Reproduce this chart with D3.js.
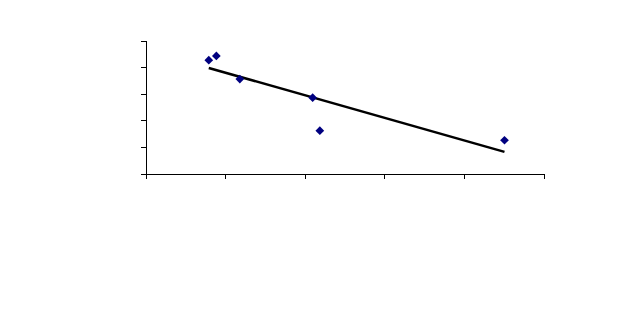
<!DOCTYPE html>
<html>
<head>
    <meta charset="utf-8">
    <title>Scatter with trend line</title>
    <style>
        body { margin: 0; background: #fff; }
        .axis path, .axis line { stroke: #000; shape-rendering: crispEdges; }
    </style>
</head>
<body>
<script src="https://d3js.org/d3.v7.min.js"></script>
<script>
    // Data (no tick labels, so arbitrary units)
    const xValues = [1.59, 1.78, 2.37, 4.20, 4.38, 9.02];
    const yValues = [4.26, 4.42, 3.55, 2.85, 1.61, 1.25];
    const xTicks = [0, 2, 4, 6, 8, 10];
    const yTicks = [0, 1, 2, 3, 4, 5];

    const W = 636, H = 314;
    const svg = d3.select('body').append('svg')
        .attr('width', W)
        .attr('height', H);

    const x = d3.scaleLinear().domain([0, 10]).range([145.5, 543.5]);
    const y = d3.scaleLinear().domain([0, 5]).range([173.5, 40.5]);

    // Axes: ticks only, no labels
    svg.append('g')
        .attr('class', 'axis')
        .attr('transform', `translate(0,${y(0)})`)
        .call(d3.axisBottom(x).tickValues(xTicks).tickSize(5).tickSizeOuter(0).tickFormat(''));
    svg.append('g')
        .attr('class', 'axis')
        .attr('transform', `translate(${x(0)},0)`)
        .call(d3.axisLeft(y).tickValues(yTicks).tickSize(5).tickSizeOuter(0).tickFormat(''));

    // Linear trend line (least squares over the points)
    const mx = d3.mean(xValues), my = d3.mean(yValues);
    const slope = d3.sum(xValues, (v, i) => (v - mx) * (yValues[i] - my)) /
        d3.sum(xValues, v => (v - mx) * (v - mx));
    const fit = v => my + slope * (v - mx);
    const [x0, x1] = d3.extent(xValues);
    svg.append('line')
        .attr('x1', x(x0)).attr('y1', y(fit(x0)))
        .attr('x2', x(x1)).attr('y2', y(fit(x1)))
        .attr('stroke', '#000')
        .attr('stroke-width', 2.5);

    // Diamond markers
    const diamond = d3.symbol().type(d3.symbolSquare).size(38);
    svg.selectAll('.pt')
        .data(xValues.map((v, i) => [v, yValues[i]]))
        .enter()
        .append('path')
        .attr('class', 'pt')
        .attr('d', diamond)
        .attr('transform', d => `translate(${x(d[0])},${y(d[1])}) rotate(45)`)
        .attr('fill', '#000080');
</script>
</body>
</html>
